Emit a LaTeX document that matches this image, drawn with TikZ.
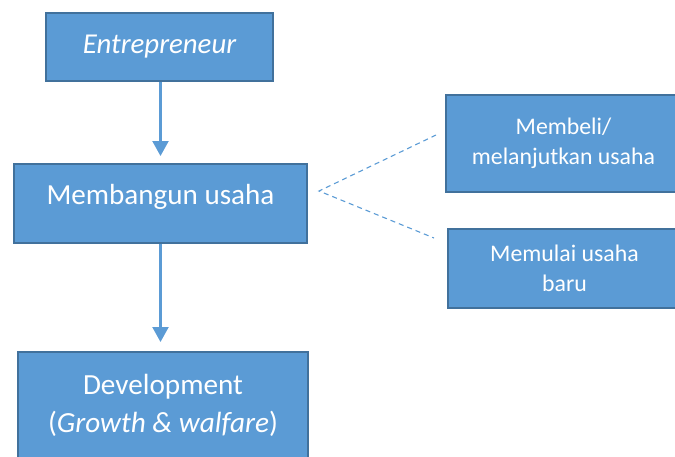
\documentclass[tikz,border=0pt]{standalone}
\usepackage{fontspec}
\setmainfont{Carlito}
\usepackage{xcolor}
\usetikzlibrary{arrows.meta,positioning}
\definecolor{boxblue}{HTML}{5B9BD5}
\definecolor{boxedge}{HTML}{41719C}

\begin{document}
\begin{tikzpicture}[x=1pt,y=-1pt,
    box/.style={rectangle,draw=boxedge,line width=2pt,fill=boxblue,text=white,inner sep=0pt,align=center},
    arrow/.style={-{Triangle[length=15pt,width=16pt]},draw=boxblue,line width=2.2pt},
    dashline/.style={draw=boxblue,line width=1.1pt,dash pattern=on 5pt off 4pt}
]
    \path[use as bounding box,clip] (0,0) rectangle (675,456);

    % Left column
    \node[box,minimum width=227,minimum height=68,font=\fontsize{28.8}{34}\selectfont\itshape] (ent) at (159.5,47) {Entrepreneur};
    \node[box,minimum width=293,minimum height=79,font=\fontsize{29.1}{37}\selectfont,text height=20pt,text depth=19pt] (usaha) at (160.5,203.5) {Membangun usaha};
    \node[box,minimum width=290,minimum height=106,font=\fontsize{29.2}{38}\selectfont] (dev) at (163,405) {Development\\(\textit{Growth \& walfare})};

    % Right column
    \node[box,minimum width=235,minimum height=97,font=\fontsize{23.8}{30}\selectfont] (beli) at (563.5,143.5) {Membeli/\\melanjutkan usaha};
    \node[box,minimum width=233,minimum height=79,font=\fontsize{23.8}{30}\selectfont] (mulai) at (564.5,268.5) {Memulai usaha\\baru};

    % Arrows
    \draw[arrow,shorten >=7pt] (ent.south -| usaha) -- (usaha);
    \draw[arrow,shorten >=9pt] (usaha) -- (usaha |- dev.north);

    % Dashed branches
    \coordinate (fork) at (319,191);
    \coordinate (beliend) at (436,135);
    \coordinate (mulaiend) at (434,238);
    \draw[dashline] (beliend) -- (fork) -- (mulaiend);
\end{tikzpicture}
\end{document}
